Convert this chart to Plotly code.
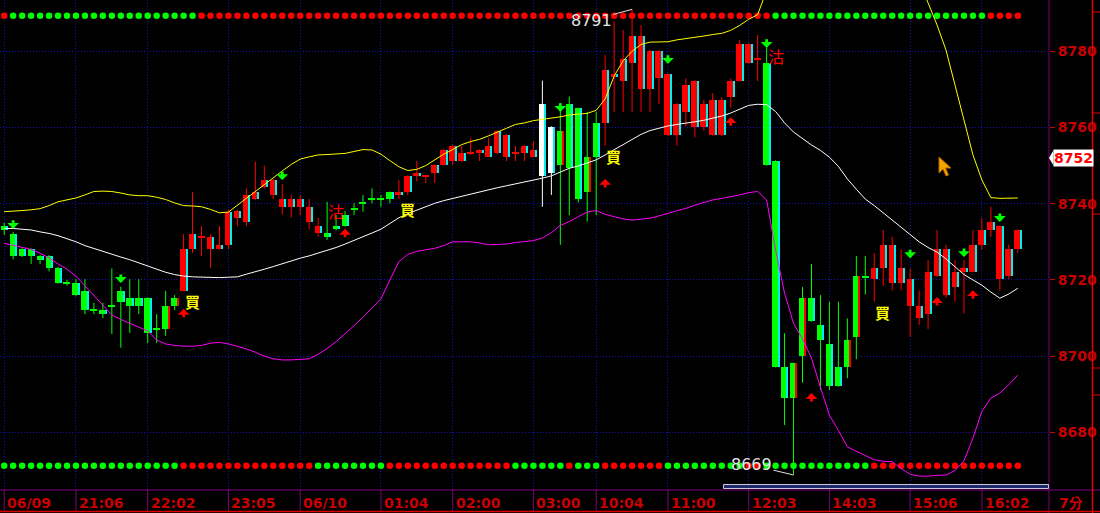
import plotly.graph_objects as go

# ---------------- data (7-minute bars) ----------------
bars = list(range(114))
open_ = [8734.2, 8732.0, 8728.1, 8728.1, 8726.3, 8726.3, 8723.2, 8719.1, 8719.1, 8717.1,
         8712.1, 8712.1, 8713.1, 8717.1, 8715.2, 8715.2, 8715.2, 8707.0, 8713.1, 8715.2,
         8717.1, 8728.1, 8731.2, 8728.1, 8728.1, 8729.2, 8736.3, 8735.3, 8741.2, 8744.3,
         8742.3, 8739.2, 8739.2, 8739.2, 8735.3, 8732.2, 8732.2, 8734.2, 8737.0, 8738.6,
         8740.1, 8741.2, 8741.2, 8743.0, 8742.3, 8743.2, 8747.3, 8747.3, 8748.1, 8750.2,
         8751.2, 8751.2, 8753.2, 8753.2, 8752.3, 8753.2, 8752.3, 8753.2, 8753.2, 8752.3,
         8747.3, 8760.1, 8759.1, 8766.2, 8765.0, 8752.3, 8761.1, 8761.3, 8773.2, 8772.3,
         8777.0, 8770.0, 8770.0, 8772.9, 8758.0, 8758.0, 8764.0, 8760.2, 8760.2, 8758.0,
         8758.0, 8768.1, 8772.2, 8777.0, 8777.9, 8777.0, 8751.2, 8697.2, 8698.1, 8715.3,
         8715.3, 8708.2, 8703.2, 8697.2, 8704.2, 8721.0, 8720.8, 8720.2, 8723.0, 8719.3,
         8719.3, 8713.1, 8710.1, 8711.0, 8721.0, 8716.0, 8718.2, 8722.2, 8722.2, 8729.2,
         8733.1, 8720.2, 8721.0, 8728.0]
high = [8735.0, 8732.6, 8728.3, 8728.3, 8726.5, 8726.5, 8723.4, 8720.0, 8720.2, 8720.2,
        8714.0, 8714.0, 8723.0, 8718.2, 8720.2, 8720.2, 8715.4, 8711.0, 8717.1, 8716.0,
        8732.0, 8743.0, 8734.1, 8732.0, 8734.1, 8738.5, 8738.4, 8744.0, 8751.0, 8750.0,
        8746.5, 8745.2, 8742.3, 8742.1, 8741.2, 8736.3, 8740.5, 8737.0, 8738.1, 8740.1,
        8742.3, 8744.0, 8742.3, 8743.2, 8746.2, 8747.5, 8751.2, 8747.5, 8750.4, 8754.3,
        8755.3, 8755.1, 8757.2, 8754.3, 8757.2, 8759.3, 8758.2, 8755.1, 8755.3, 8756.3,
        8772.3, 8760.3, 8766.4, 8768.1, 8765.2, 8764.1, 8764.1, 8779.0, 8787.8, 8785.6,
        8791.0, 8786.9, 8780.3, 8780.3, 8774.2, 8766.4, 8772.9, 8772.4, 8767.2, 8769.0,
        8768.0, 8772.9, 8783.0, 8782.1, 8784.3, 8781.2, 8751.4, 8706.0, 8698.3, 8718.1,
        8724.2, 8716.0, 8714.3, 8714.3, 8709.9, 8726.3, 8726.3, 8727.0, 8733.1, 8731.3,
        8728.0, 8723.0, 8717.2, 8725.2, 8733.1, 8729.2, 8725.2, 8725.2, 8733.1, 8736.2,
        8739.2, 8734.3, 8729.2, 8733.3]
low = [8731.8, 8725.4, 8726.0, 8724.2, 8724.2, 8722.2, 8719.0, 8718.5, 8715.7, 8711.0,
       8711.0, 8710.0, 8705.8, 8702.2, 8706.1, 8711.0, 8703.4, 8703.4, 8705.3, 8712.1,
       8717.0, 8727.1, 8726.3, 8723.2, 8728.0, 8728.1, 8734.1, 8734.1, 8741.0, 8744.0,
       8741.2, 8737.2, 8736.3, 8737.0, 8733.3, 8731.3, 8730.5, 8733.0, 8734.0, 8737.0,
       8737.9, 8740.1, 8739.2, 8740.1, 8741.2, 8742.3, 8745.8, 8745.4, 8745.4, 8750.0,
       8750.2, 8751.0, 8752.8, 8751.2, 8752.2, 8753.0, 8751.2, 8751.2, 8751.2, 8752.2,
       8739.2, 8742.3, 8729.2, 8737.0, 8740.3, 8735.3, 8737.0, 8755.2, 8764.1, 8764.1,
       8764.1, 8764.1, 8764.1, 8766.2, 8757.8, 8755.2, 8760.2, 8757.4, 8759.1, 8757.8,
       8757.8, 8765.3, 8772.0, 8776.8, 8772.2, 8750.0, 8697.0, 8681.9, 8668.8, 8693.0,
       8709.0, 8691.1, 8691.1, 8692.0, 8694.2, 8699.2, 8716.2, 8714.3, 8718.4, 8717.2,
       8717.2, 8705.1, 8708.2, 8707.1, 8720.8, 8715.3, 8714.3, 8711.2, 8722.0, 8728.0,
       8731.3, 8717.2, 8720.2, 8727.1]
close = [8733.2, 8726.3, 8726.3, 8726.3, 8725.2, 8723.2, 8719.3, 8719.1, 8716.0, 8712.1,
         8712.1, 8711.0, 8713.1, 8714.3, 8713.1, 8713.1, 8706.1, 8707.0, 8707.2, 8713.1,
         8728.1, 8732.0, 8731.2, 8731.2, 8729.2, 8737.9, 8738.2, 8742.3, 8743.1, 8746.2,
         8746.2, 8741.2, 8741.2, 8741.2, 8739.2, 8734.1, 8731.3, 8733.3, 8734.2, 8738.6,
         8740.1, 8741.2, 8741.2, 8741.2, 8743.0, 8747.3, 8748.1, 8747.3, 8750.2, 8754.1,
         8755.1, 8753.2, 8753.2, 8754.1, 8755.1, 8759.1, 8758.0, 8753.2, 8755.1, 8754.1,
         8766.2, 8748.1, 8750.2, 8749.3, 8741.2, 8743.2, 8752.3, 8775.1, 8774.0, 8777.9,
         8784.0, 8784.0, 8780.1, 8780.1, 8774.0, 8766.2, 8771.2, 8772.2, 8766.2, 8767.2,
         8767.2, 8772.2, 8781.9, 8781.9, 8777.9, 8750.2, 8697.2, 8689.1, 8689.1, 8700.1,
         8709.2, 8704.2, 8692.2, 8692.2, 8697.2, 8705.1, 8720.8, 8723.0, 8729.2, 8729.2,
         8723.0, 8720.2, 8713.1, 8722.2, 8728.0, 8728.0, 8722.2, 8723.0, 8729.2, 8733.1,
         8735.3, 8734.1, 8728.0, 8733.1]
upper = [8737.9, 8738.0, 8738.2, 8738.4, 8738.7, 8739.5, 8740.5, 8741.0, 8741.5, 8742.3,
         8743.2, 8743.3, 8743.2, 8742.8, 8742.3, 8742.1, 8742.1, 8741.7, 8741.1, 8740.2,
         8739.5, 8739.4, 8739.2, 8738.5, 8737.6, 8737.8, 8739.6, 8741.5, 8743.2, 8745.0,
         8747.0, 8748.6, 8750.3, 8751.7, 8752.3, 8752.8, 8752.9, 8753.0, 8753.2, 8753.7,
         8754.2, 8754.1, 8753.0, 8751.3, 8749.7, 8748.7, 8749.0, 8750.0, 8751.5, 8753.0,
         8754.2, 8755.5, 8756.3, 8756.9, 8757.8, 8758.7, 8759.8, 8760.8, 8761.2, 8761.8,
         8762.1, 8762.4, 8762.8, 8763.3, 8763.5, 8763.7, 8764.5, 8767.5, 8773.5, 8777.5,
         8780.0, 8781.8, 8782.4, 8782.5, 8782.5, 8783.0, 8783.3, 8783.6, 8784.0, 8784.4,
         8784.7, 8785.5, 8786.8, 8788.4, 8789.6, 8796.0, 8808.0, 8816.0, 8822.0, 8826.0,
         8829.0, 8832.0, 8834.0, 8834.0, 8832.0, 8829.0, 8826.0, 8822.0, 8818.0, 8813.0,
         8808.0, 8802.0, 8798.7, 8792.7, 8786.9, 8780.3, 8771.2, 8762.0, 8752.8, 8746.2,
         8741.6, 8741.4, 8741.5, 8741.5]
mid = [8733.5, 8733.5, 8733.3, 8733.1, 8732.6, 8732.2, 8731.6, 8730.9, 8730.0, 8729.0,
       8728.2, 8727.4, 8726.7, 8726.0, 8725.3, 8724.5, 8723.5, 8722.7, 8722.0, 8721.4,
       8721.0, 8720.8, 8720.7, 8720.6, 8720.6, 8720.7, 8720.8, 8721.5, 8722.1, 8722.8,
       8723.5, 8724.3, 8725.0, 8725.7, 8726.3, 8727.0, 8727.7, 8728.5, 8729.4, 8730.3,
       8731.3, 8732.3, 8733.3, 8734.8, 8736.3, 8737.4, 8738.3, 8739.3, 8740.1, 8740.8,
       8741.4, 8742.0, 8742.6, 8743.2, 8743.7, 8744.2, 8744.7, 8745.2, 8745.6, 8746.1,
       8746.7, 8747.3, 8748.2, 8749.3, 8749.9, 8750.6, 8751.5, 8752.8, 8754.2, 8755.6,
       8757.0, 8758.2, 8759.2, 8759.9, 8760.4, 8760.8, 8761.1, 8761.5, 8761.9, 8762.4,
       8763.0, 8763.8, 8764.8, 8765.8, 8766.1, 8766.0, 8764.2, 8761.2, 8758.8, 8757.0,
       8755.4, 8754.0, 8752.2, 8749.8, 8746.5, 8743.8, 8741.2, 8739.5, 8737.6, 8735.5,
       8733.6, 8731.8, 8730.0, 8728.5, 8727.3, 8725.5, 8723.5, 8721.4, 8720.0, 8718.6,
       8716.8, 8715.2, 8716.3, 8717.8]
lower = [8729.6, 8729.0, 8728.5, 8728.0, 8727.0, 8725.8, 8724.2, 8722.8, 8721.0, 8718.5,
         8716.0, 8713.3, 8710.8, 8709.6, 8708.6, 8707.8, 8706.6, 8704.2, 8703.2, 8702.8,
         8702.6, 8702.6, 8702.8, 8703.4, 8703.6, 8703.2, 8702.6, 8701.9, 8701.0, 8700.0,
         8699.3, 8699.0, 8699.0, 8699.1, 8699.3, 8700.5, 8702.0, 8703.8, 8705.8, 8708.0,
         8710.2, 8712.5, 8715.0, 8720.0, 8724.8, 8726.7, 8727.5, 8727.9, 8728.3, 8729.0,
         8730.0, 8730.0, 8730.0, 8729.7, 8729.2, 8729.3, 8729.4, 8729.8, 8730.1, 8730.3,
         8731.0, 8732.4, 8734.3, 8735.3, 8736.6, 8737.8, 8738.2, 8737.2, 8736.6, 8736.0,
         8735.7, 8735.9, 8736.2, 8736.8, 8737.4, 8738.2, 8738.8, 8739.6, 8740.3, 8741.0,
         8741.4, 8741.8, 8742.3, 8742.9, 8743.2, 8741.0, 8727.8, 8716.5, 8708.6, 8704.5,
         8699.5, 8691.8, 8684.5, 8680.5, 8676.2, 8675.0, 8674.0, 8672.8, 8672.4, 8672.3,
         8670.5, 8669.0, 8668.5, 8668.5, 8668.7, 8668.8, 8670.0, 8672.5, 8678.5, 8685.5,
         8689.0, 8690.3, 8692.5, 8695.0]

white_bars = [60, 61]
doji_green = [7, 10, 12, 17, 39, 40, 41, 42, 96]
red_edge_bars = [18, 19, 62, 65, 88, 89, 94, 95]

tick_bars = [0, 8, 16, 25, 33, 42, 50, 59, 66, 74, 83, 92, 101, 109]
tick_text = ["06/09", "21:06", "22:02", "23:05", "06/10", "01:04", "02:00", "03:00",
             "10:04", "11:00", "12:03", "14:03", "15:06", "16:02"]
price_ticks = [8680, 8700, 8720, 8740, 8760, 8780]

top_dot_runs = [("r", 1), ("g", 21), ("r", 64), ("g", 24), ("r", 4)]
bottom_dot_runs = [("g", 20), ("r", 15), ("g", 8), ("r", 14), ("g", 6), ("r", 1), ("g", 3),
                   ("r", 7), ("g", 9), ("r", 2), ("g", 12), ("r", 17)]

buy_bars = [20, 44, 67, 97]
sell_bars = [36, 85]
down_arrows = [(1, 8733.4), (13, 8719.2), (31, 8746.2), (62, 8764.1), (74, 8776.7),
               (85, 8780.9), (101, 8725.7), (107, 8726.0), (111, 8735.2)]
up_arrows = [(20, 8712.4), (38, 8733.4), (67, 8746.5), (81, 8762.7), (90, 8690.3),
             (104, 8715.5), (108, 8717.3)]
hi_bar, lo_bar = 70, 88
last_price = 8752

# ---------------- styling / geometry ----------------
W, H = 1100, 513
ML, MR, MT, MB = 0, 51, 0, 24
PW, PH = W - ML - MR, H - MT - MB
Y_MIN, Y_MAX = 8665.12, 8793.46
X_MIN, X_MAX = -0.468, 116.48
RED, GREEN, CYAN, WHITE = "#ff0000", "#00ff00", "#00f0f0", "#ffffff"
AXRED = "#c80000"
PURPLE = "#800080"
GRID = "#1414b4"
FONT = "DejaVu Sans"


def py2p(py):
    return Y_MAX - py * (Y_MAX - Y_MIN) / PH


def px2paper(px):
    return px / PW


def py2paper(py):
    return (PH - py) / PH


def expand(runs):
    out = []
    for c, n in runs:
        out += [RED if c == "r" else GREEN] * n
    return out


colors, bases, heights, edge_h, edge_c = [], [], [], [], []
for i in bars:
    o, c = open_[i], close[i]
    if i in white_bars:
        col = WHITE
    elif c > o:
        col = RED
    elif c < o:
        col = GREEN
    else:
        col = GREEN if i in doji_green else RED
    colors.append(col)
    if abs(c - o) < 0.05:
        bases.append(o - 0.15)
        heights.append(0.3)
        edge_h.append(None)
    else:
        bases.append(min(o, c))
        heights.append(abs(c - o))
        edge_h.append(abs(c - o))
    edge_c.append(RED if i in red_edge_bars else CYAN)

fig = go.Figure()

# dot rows
fig.add_trace(go.Scatter(x=bars, y=[py2p(15.7)] * len(bars), mode="markers",
                         marker=dict(color=expand(top_dot_runs), size=6.5, symbol="circle",
                                     line=dict(width=0)),
                         hoverinfo="skip", showlegend=False))
fig.add_trace(go.Scatter(x=bars, y=[py2p(465.7)] * len(bars), mode="markers",
                         marker=dict(color=expand(bottom_dot_runs), size=6.5, symbol="circle",
                                     line=dict(width=0)),
                         hoverinfo="skip", showlegend=False))

# candle bodies
fig.add_trace(go.Bar(x=bars, y=heights, base=bases, width=0.78, offset=-0.39,
                     marker=dict(color=colors, line=dict(width=0)),
                     hoverinfo="skip", showlegend=False))
fig.add_trace(go.Bar(x=bars, y=edge_h, base=bases, width=0.12, offset=0.27,
                     marker=dict(color=edge_c, line=dict(width=0)),
                     hoverinfo="skip", showlegend=False))

# wicks grouped by colour
for col in [RED, GREEN, WHITE]:
    xs, ys = [], []
    for i in bars:
        if colors[i] == col:
            xs += [i, i, None]
            ys += [low[i], high[i], None]
    fig.add_trace(go.Scatter(x=xs, y=ys, mode="lines", line=dict(color=col, width=1),
                             hoverinfo="skip", showlegend=False))

# Bollinger bands
fig.add_trace(go.Scatter(x=bars, y=upper, mode="lines", line=dict(color="#ffff00", width=1),
                         hoverinfo="skip", showlegend=False))
fig.add_trace(go.Scatter(x=bars, y=mid, mode="lines", line=dict(color="#ffffff", width=1),
                         hoverinfo="skip", showlegend=False))
fig.add_trace(go.Scatter(x=bars, y=lower, mode="lines", line=dict(color="#ff00ff", width=1),
                         hoverinfo="skip", showlegend=False))

ann = []
# signal arrows
for b, p in down_arrows:
    ann.append(dict(x=b, y=p, xref="x", yref="y", text="", showarrow=True, ax=0, ay=-10,
                    arrowhead=1, arrowsize=0.7, arrowwidth=2.8, arrowcolor=GREEN))
for b, p in up_arrows:
    ann.append(dict(x=b, y=p, xref="x", yref="y", text="", showarrow=True, ax=0, ay=10,
                    arrowhead=1, arrowsize=0.7, arrowwidth=2.8, arrowcolor=RED))
# 買 / 沽
for b in buy_bars:
    ann.append(dict(x=b, y=low[b], xref="x", yref="y", text="<b>買</b>", showarrow=False,
                    xanchor="left", yanchor="top", yshift=1, borderpad=0,
                    font=dict(family="Noto Sans CJK TC", size=15, color="#ffff00")))
for b in sell_bars:
    ann.append(dict(x=b, y=high[b], xref="x", yref="y", text="沽", showarrow=False,
                    xanchor="left", yanchor="top", yshift=4, borderpad=0,
                    font=dict(family="Noto Sans CJK TC", size=16, color=RED)))
# high / low labels
ann.append(dict(x=hi_bar, y=high[hi_bar], xref="x", yref="y", text=f"{high[hi_bar]:.0f}",
                showarrow=True, ax=-41, ay=11, arrowhead=0, arrowwidth=1, arrowcolor="#e0e0e0",
                font=dict(family=FONT, size=16, color="#e6e6e6")))
ann.append(dict(x=lo_bar, y=low[lo_bar], xref="x", yref="y", text=f"{low[lo_bar]:.0f}",
                showarrow=True, ax=-42, ay=-10, arrowhead=0, arrowwidth=1, arrowcolor="#e0e0e0",
                font=dict(family=FONT, size=16, color="#e6e6e6")))
# x-axis labels (left aligned at tick)
for b, t in zip(tick_bars, tick_text):
    ann.append(dict(x=b, y=0, xref="x", yref="paper", text=t, showarrow=False,
                    xanchor="left", yanchor="top", xshift=1, yshift=-4,
                    font=dict(family=FONT, size=14, color=AXRED, weight="bold")))
ann.append(dict(x=px2paper(1057), y=0, xref="paper", yref="paper", text="7分", showarrow=False,
                xanchor="left", yanchor="top", yshift=-4,
                font=dict(family=FONT + ", Noto Sans CJK TC", size=14, color=AXRED, weight="bold")))
# last price marker
ann.append(dict(x=px2paper(1053), y=last_price, xref="paper", yref="y", text=f"{last_price}",
                showarrow=False, xanchor="left", yanchor="middle", bgcolor="#ffffff",
                borderpad=0, font=dict(family=FONT, size=14, color=RED, weight="bold")))

shapes = []
for b in tick_bars:
    shapes.append(dict(type="line", xref="x", yref="paper", x0=b, x1=b,
                       y0=0, y1=-23 / PH, line=dict(color=PURPLE, width=1)))
shapes += [
    dict(type="line", xref="paper", yref="paper", x0=0, x1=px2paper(1100),
         y0=py2paper(490), y1=py2paper(490), line=dict(color=PURPLE, width=1)),
    dict(type="line", xref="paper", yref="paper", x0=1, x1=1, y0=py2paper(513), y1=1,
         line=dict(color=PURPLE, width=1)),
    dict(type="line", xref="paper", yref="paper", x0=0, x1=px2paper(1100),
         y0=py2paper(511.5), y1=py2paper(511.5), line=dict(color="#e00000", width=1.5)),
    dict(type="line", xref="paper", yref="paper", x0=px2paper(1092.5), x1=px2paper(1092.5),
         y0=py2paper(513), y1=1, line=dict(color="#e00000", width=1.5)),
    # scrollbar
    dict(type="rect", xref="paper", yref="paper", x0=px2paper(723.5), x1=px2paper(1048.5),
         y0=py2paper(488.5), y1=py2paper(484.5), fillcolor="#1c2a6c",
         line=dict(color="#c8c8d8", width=1)),
    # pointer of last price marker
    dict(type="path", xref="paper", yref="y",
         path=f"M {px2paper(1049)},{last_price} L {px2paper(1053.5)},{last_price + 2.0} "
              f"L {px2paper(1053.5)},{last_price - 2.0} Z",
         fillcolor="#ffffff", line=dict(width=0)),
]
for py in [12, 113, 214, 368, 395]:
    shapes.append(dict(type="line", xref="paper", yref="paper", x0=px2paper(1093),
                       x1=px2paper(1100), y0=py2paper(py), y1=py2paper(py),
                       line=dict(color="#e00000", width=1)))
# mouse cursor
cur = [(939, 157), (939, 173), (943, 169), (946, 176), (948.5, 175), (945.5, 168), (951, 168)]
cpath = "M " + " L ".join(f"{px2paper(x)},{py2paper(y)}" for x, y in cur) + " Z"
shapes.append(dict(type="path", xref="paper", yref="paper", path=cpath,
                   fillcolor="#f4a400", line=dict(color="#b06800", width=1)))

fig.update_layout(
    width=W, height=H, margin=dict(l=ML, r=MR, t=MT, b=MB),
    paper_bgcolor="#000000", plot_bgcolor="#000000",
    barmode="overlay", bargap=0, showlegend=False,
    xaxis=dict(range=[X_MIN, X_MAX], tickvals=tick_bars, showticklabels=False, ticks="",
               showgrid=True, gridcolor=GRID, gridwidth=1, griddash="1px,2px",
               zeroline=False, showline=False, fixedrange=True),
    yaxis=dict(range=[Y_MIN, Y_MAX], side="right", tickvals=price_ticks,
               ticktext=[str(v) for v in price_ticks], ticks="outside", ticklen=5,
               tickcolor=AXRED, tickwidth=1,
               tickfont=dict(family=FONT, size=14, color=AXRED, weight="bold"),
               showgrid=True, gridcolor=GRID, gridwidth=1, griddash="1px,2px",
               zeroline=False, showline=False, fixedrange=True),
    annotations=ann, shapes=shapes,
    hovermode=False,
)

fig.write_html("out.html", config={"displayModeBar": False},
               post_script="document.body.style.margin='0';")
